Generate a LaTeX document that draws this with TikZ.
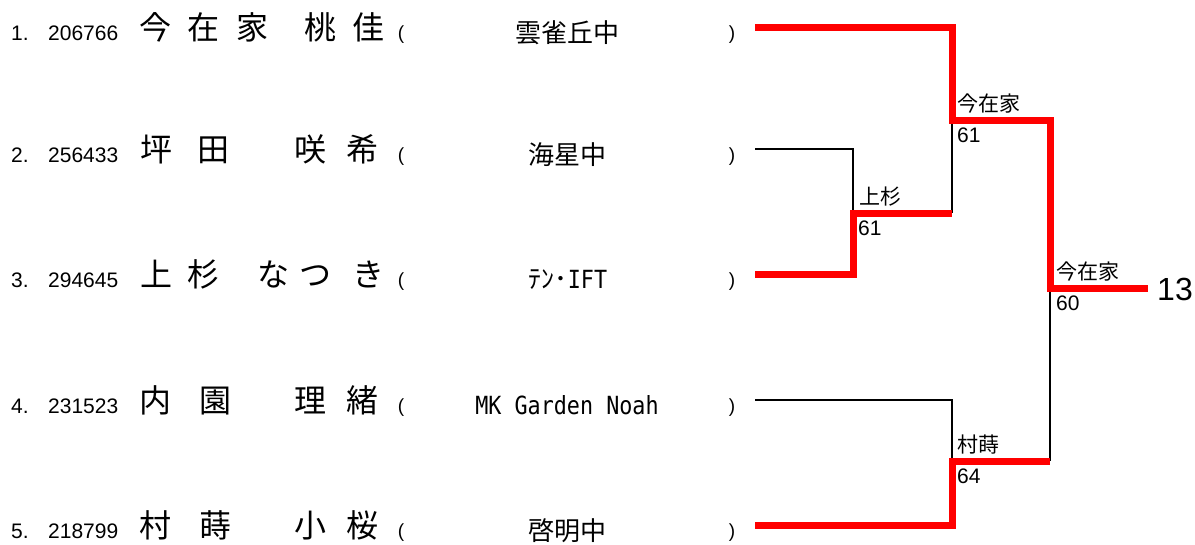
\documentclass[tikz,border=0pt]{standalone}
\usepackage{fontspec}
\newfontfamily\cjk{Noto Sans CJK JP}
\newfontfamily\lat{Liberation Sans}
\newfontfamily\mono[FakeStretch=0.87]{DejaVu Sans Mono}
\definecolor{wred}{RGB}{255,0,0}
\tikzset{
 idx/.style={inner sep=0pt, anchor=base west, font=\lat\fontsize{21}{21}\selectfont},
 nm/.style={inner sep=0pt, anchor=base, font=\cjk\fontsize{32}{32}\selectfont},
 sch/.style={inner sep=0pt, anchor=base, font=\cjk\fontsize{26}{26}\selectfont},
 schm/.style={inner sep=0pt, anchor=base, font=\mono\fontsize{25}{25}\selectfont},
 par/.style={inner sep=0pt, anchor=base, font=\lat\fontsize{19}{19}\selectfont},
 win/.style={inner sep=0pt, anchor=base west, font=\cjk\fontsize{21}{21}\selectfont},
 scr/.style={inner sep=0pt, anchor=base west, font=\lat\fontsize{21}{21}\selectfont},
 fin/.style={inner sep=0pt, anchor=base west, font=\lat\fontsize{32}{32}\selectfont},
 redline/.style={draw=wred, line width=7pt, line join=miter},
 blkline/.style={draw=black, line width=2pt},
}
\begin{document}
\begin{tikzpicture}[x=1pt,y=-1pt]
\useasboundingbox (0,0) rectangle (1195,544);
% bracket coordinates
\coordinate (r1) at (755,27);
\coordinate (r2) at (755,149);
\coordinate (r3) at (755,274);
\coordinate (r4) at (755,400);
\coordinate (r5) at (755,525);
\coordinate (m23) at (853,213);
\coordinate (m23e) at (952,213);
\coordinate (b) at (952,120);
\coordinate (c) at (952,461);
\coordinate (c2) at (1050,461);
\coordinate (f) at (1050,288);
\coordinate (fin) at (1148,288);
% black lines
\draw[blkline] (r2) -| (m23);
\draw[blkline] (m23e) -- (b);
\draw[blkline] (r4) -| (c);
\draw[blkline] (c2) -- (f);
% red winner lines
\draw[redline] (r1) -| (b) -| (f) -- (fin);
\draw[redline] (r3) -| (m23) -- (m23e);
\draw[redline] (r5) -| (c) -- (c2);
% row 1
\node[idx] (i1) at (11,40) {1.};
\node[idx] (d1) at (48,40) {206766};
\node[nm] (n1a) at (155,39) {今};
\node[nm] (n1b) at (203,39) {在};
\node[nm] (n1c) at (252,39) {家};
\node[nm] (n1d) at (320,39) {桃};
\node[nm] (n1e) at (368,39) {佳};
\node[par] (p1l) at (401,39) {(};
\node[sch] (s1) at (567,42) {雲雀丘中};
\node[par] (p1r) at (732,39) {)};
% row 2
\node[idx] (i2) at (11,162) {2.};
\node[idx] (d2) at (48,162) {256433};
\node[nm] (n2a) at (156,161) {坪};
\node[nm] (n2b) at (213,161) {田};
\node[nm] (n2c) at (310,161) {咲};
\node[nm] (n2d) at (362,161) {希};
\node[par] (p2l) at (401,161) {(};
\node[sch] (s2) at (567,164) {海星中};
\node[par] (p2r) at (732,161) {)};
% row 3
\node[idx] (i3) at (11,287) {3.};
\node[idx] (d3) at (48,287) {294645};
\node[nm] (n3a) at (156,286) {上};
\node[nm] (n3b) at (203,286) {杉};
\node[nm] (n3c) at (273,286) {な};
\node[nm] (n3d) at (315,286) {つ};
\node[nm] (n3e) at (368,286) {き};
\node[par] (p3l) at (401,286) {(};
\node[sch] (s3) at (568,288) {ﾃﾝ･\mono\fontsize{25}{25}\selectfont IFT};
\node[par] (p3r) at (732,286) {)};
% row 4
\node[idx] (i4) at (11,413) {4.};
\node[idx] (d4) at (48,413) {231523};
\node[nm] (n4a) at (155,412) {内};
\node[nm] (n4b) at (215,412) {園};
\node[nm] (n4c) at (310,412) {理};
\node[nm] (n4d) at (362,412) {緒};
\node[par] (p4l) at (401,412) {(};
\node[schm] (s4) at (567,414) {MK Garden Noah};
\node[par] (p4r) at (732,412) {)};
% row 5
\node[idx] (i5) at (11,538) {5.};
\node[idx] (d5) at (48,538) {218799};
\node[nm] (n5a) at (155,537) {村};
\node[nm] (n5b) at (215,537) {蒔};
\node[nm] (n5c) at (310,537) {小};
\node[nm] (n5d) at (362,537) {桜};
\node[par] (p5l) at (401,537) {(};
\node[sch] (s5) at (567,540) {啓明中};
\node[par] (p5r) at (732,537) {)};
% bracket labels
\node[win] (w1) at (859,204.5) {上杉};
\node[scr] (sc1) at (858,235) {61};
\node[win] (w2) at (957,111.5) {今在家};
\node[scr] (sc2) at (957,142) {61};
\node[win] (w3) at (957,452.5) {村蒔};
\node[scr] (sc3) at (957,483) {64};
\node[win] (w4) at (1056,279.5) {今在家};
\node[scr] (sc4) at (1056,310) {60};
\node[fin] (res) at (1157,300) {13};
\end{tikzpicture}
\end{document}
